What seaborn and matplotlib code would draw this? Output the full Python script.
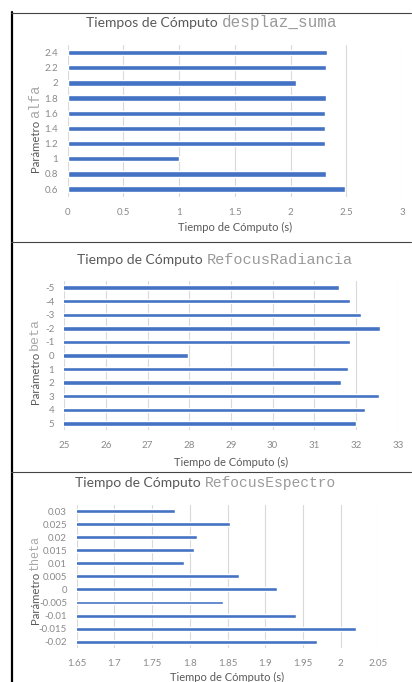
import matplotlib
matplotlib.use("Agg")
import matplotlib.pyplot as plt
from matplotlib.lines import Line2D
from matplotlib.ticker import MultipleLocator, FormatStrFormatter
import seaborn as sns
import pandas as pd

# data (categories listed top to bottom, as shown)
alfa_labels = ["2.4", "2.2", "2", "1.8", "1.6", "1.4", "1.2", "1", "0.8", "0.6"]
alfa_times = [2.33, 2.316, 2.053, 2.316, 2.313, 2.313, 2.307, 1.001, 2.319, 2.489]

beta_labels = ["-5", "-4", "-3", "-2", "-1", "0", "1", "2", "3", "4", "5"]
beta_times = [31.6, 31.86, 32.12, 32.58, 31.86, 27.98, 31.8, 31.63, 32.55, 32.22, 32.0]

theta_labels = ["0.03", "0.025", "0.02", "0.015", "0.01", "0.005", "0",
                "-0.005", "-0.01", "-0.015", "-0.02"]
theta_times = [1.780, 1.853, 1.809, 1.805, 1.792, 1.865, 1.915, 1.844, 1.941, 2.021, 1.969]

W, H = 412, 682
sns.set_style("white")
plt.rcParams["font.family"] = ["Lato", "DejaVu Sans"]
BLUE = "#4472C4"
DARK = "#595959"
LIGHT = "#8a8a8a"
MONO = "Liberation Mono"

fig = plt.figure(figsize=(W / 100, H / 100), dpi=100)


def px_axes(x0, y0, x1, y1):
    return fig.add_axes([x0 / W, 1 - y1 / H, (x1 - x0) / W, (y1 - y0) / H])


def fx(x):
    return x / W


def fy(y):
    return 1 - y / H


def panel(box, labels, times, xlim, step, width, title, mono_title, mono_size, split_x, title_y,
          param, param_size, ylab_split, xlab_y):
    ax = px_axes(*box)
    df = pd.DataFrame({"param": labels, "t": times})
    sns.barplot(data=df, x="t", y="param", order=labels, orient="h", color=BLUE,
                width=width, saturation=1, ax=ax)
    ax.set_xlim(*xlim)
    ax.xaxis.set_major_locator(MultipleLocator(step))
    ax.xaxis.set_major_formatter(FormatStrFormatter("%g"))
    ax.grid(axis="x", color="#d9d9d9", lw=0.8)
    ax.set_axisbelow(True)
    sns.despine(ax=ax, left=True, bottom=True)
    ax.tick_params(length=0, labelsize=7, labelcolor=LIGHT)
    ax.tick_params(axis="y", pad=7)
    ax.tick_params(axis="x", pad=8)
    ax.set_xlabel("")
    ax.set_ylabel("")
    # title: sans part + monospace part
    fig.text(fx(split_x - 2), fy(title_y), title, ha="right", va="center",
             fontsize=10, color=DARK)
    fig.text(fx(split_x + 2), fy(title_y), mono_title, ha="left", va="center",
             fontsize=mono_size, color="#9a9a9a", family=MONO)
    # y label: sans + monospace parameter name
    fig.text(fx(35), fy(ylab_split + 1), "Parámetro", rotation=90, rotation_mode="anchor",
             ha="right", va="center", fontsize=8.2, color=DARK)
    fig.text(fx(35), fy(ylab_split - 1), param, rotation=90, rotation_mode="anchor",
             ha="left", va="center", fontsize=param_size, color="#a8a8a8", family=MONO)
    fig.text(fx((box[0] + box[2]) / 2), fy(xlab_y), "Tiempo de Cómputo (s)", ha="center",
             va="center", fontsize=8, color=DARK)
    return ax


panel((67.7, 45.1, 402, 196.6), alfa_labels, alfa_times, (0, 3), 0.5, 0.35,
      "Tiempos de Cómputo", "desplaz_suma", 11.5, 220, 23, "alfa", 10, 119, 227)
panel((64.1, 280.9, 397.7, 430.1), beta_labels, beta_times, (25, 33), 1, 0.33,
      "Tiempo de Cómputo", "RefocusRadiancia", 11, 205, 260, "beta", 9.5, 351, 462)
panel((76.7, 504.5, 378.3, 648.2), theta_labels, theta_times, (1.65, 2.05), 0.05, 0.3,
      "Tiempo de Cómputo", "RefocusEspectro", 10.5, 203, 483, "theta", 8.5, 571, 677)

# table-like borders around the panels
fig.add_artist(Line2D([fx(11.5), fx(11.5)], [fy(12), fy(682)], color="black", lw=1.6))
for yy in (12.5, 242.3, 472.3):
    fig.add_artist(Line2D([fx(11), fx(411)], [fy(yy), fy(yy)], color="#444444", lw=0.8))

fig.savefig("out.png", dpi=100)
